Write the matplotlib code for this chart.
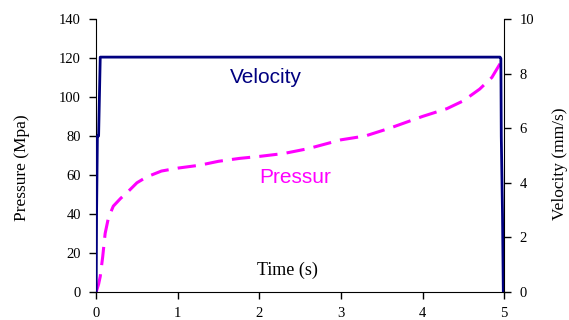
import matplotlib
matplotlib.use('Agg')
import matplotlib.pyplot as plt

# data
time_p = [0.0, 0.03, 0.05, 0.08, 0.11, 0.15, 0.21, 0.3, 0.38, 0.5, 0.62, 0.8, 1.0, 1.27,
          1.5, 1.76, 2.0, 2.3, 2.6, 3.0, 3.3, 3.6, 4.0, 4.3, 4.5, 4.7, 4.85, 4.95]
pressure = [0, 4, 8, 18, 30, 38, 44, 48, 51, 56, 59, 62, 63.5, 65,
            67, 68.5, 69.5, 71, 73.5, 78, 80, 84, 90, 94, 98, 104, 110, 117]

time_v = [0.0, 0.005, 0.015, 0.03, 0.05, 4.95, 4.96, 4.965, 4.98, 4.99]
velocity = [0, 2.86, 5.71, 5.71, 8.6, 8.6, 8.55, 5.7, 2.86, 0]

fig = plt.figure(figsize=(5.69, 3.2), dpi=100)
ax = fig.add_axes([0.169, 0.0875, 0.717, 0.8535])
ax2 = ax.twinx()

ax.plot(time_p, pressure, color='#FF00FF', linewidth=2.2, dashes=(6, 3))
ax2.plot(time_v, velocity, color='#000080', linewidth=2.0)

ax.set_xlim(0, 5)
ax.set_ylim(0, 140)
ax2.set_ylim(0, 10)
ax.set_xticks([0, 1, 2, 3, 4, 5])
ax.set_yticks(range(0, 141, 20))
ax2.set_yticks(range(0, 11, 2))

serif = 'Liberation Serif'
for a in (ax, ax2):
    a.spines['top'].set_visible(False)
    a.tick_params(direction='out', length=5, width=1, labelsize=10.5, pad=6)
    for lab in a.get_xticklabels() + a.get_yticklabels():
        lab.set_fontfamily(serif)
ax.spines['right'].set_visible(False)
ax2.spines['left'].set_visible(False)
ax2.spines['bottom'].set_visible(False)

ax.set_ylabel('Pressure (Mpa)', fontsize=12.5, family=serif)
ax.yaxis.set_label_coords(-0.162, 0.455)
ax2.set_ylabel('Velocity (mm/s)', fontsize=12.5, family=serif, rotation=90)
ax2.yaxis.set_label_coords(1.118, 0.47)

ax.text(2.08, 107, 'Velocity', color='#000080', fontsize=15, family='Liberation Sans', ha='center')
ax.text(2.44, 56, 'Pressur', color='#FF00FF', fontsize=15, family='Liberation Sans', ha='center')
ax.text(2.35, 8.5, 'Time (s)', color='black', fontsize=13, family=serif, ha='center')

fig.savefig('out.png', dpi=100)
